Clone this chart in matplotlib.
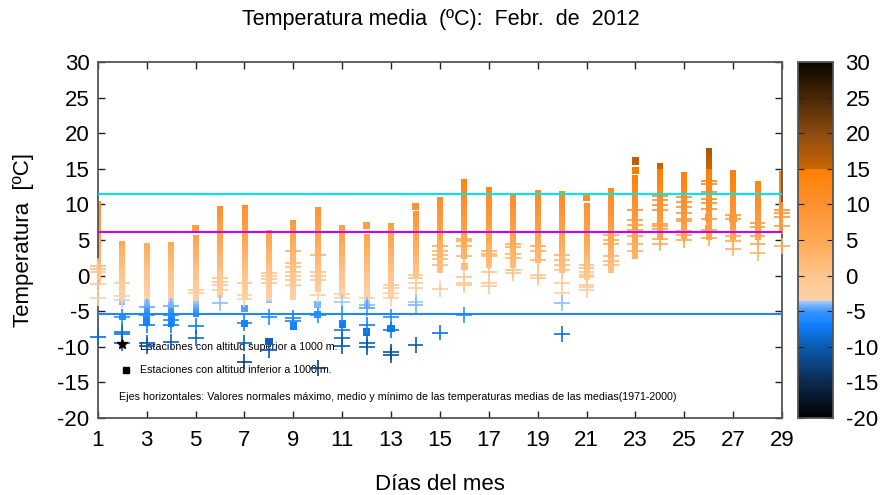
import numpy as np
import matplotlib
matplotlib.use('Agg')
import matplotlib.pyplot as plt
from matplotlib.colors import LinearSegmentedColormap, Normalize
from matplotlib.cm import ScalarMappable

plt.rcParams['font.family'] = ['Liberation Sans', 'DejaVu Sans']
plt.rcParams['axes.unicode_minus'] = False

# Data (temperature in ºC)
days = list(range(1, 30))

# dense stacks of stations (top and bottom of each column)
col_top = [10.4, 4.8, 4.4, 4.6, 5.7, 9.8, 9.9, 6.3, 7.7, 9.5,
           7.1, 5.8, 7.3, 8.9, 10.9, 13.4, 12.3, 11.4, 11.9, 11.7,
           10.2, 12.3, 14.0, 15.8, 14.6, 17.9, 14.7, 13.2, 14.5]
col_bot = [-1.3, -4.1, -5.3, -7.2, -5.8, -3.1, -3.4, -3.9, -3.4, -2.3,
           -3.0, -4.4, -3.2, -0.4, 0.3, 2.3, 1.0, 1.0, 1.7, 0.3,
           -0.6, 0.4, 2.3, 5.0, 5.2, 5.0, 5.0, 5.0, 6.2]

# isolated stations below 1000 m (squares)
square_vals = {
    2: [-5.7], 3: [-6.2, -6.6], 4: [-6.0, -6.5], 5: [6.6],
    7: [-4.6, -6.7], 8: [-9.3], 9: [-7.1], 10: [-4.1, -5.5],
    11: [-6.8], 12: [7.0, -7.9], 13: [-7.4], 14: [9.7], 16: [1.3],
    21: [11.0], 23: [16.1, 14.8], 26: [8.2, 6.6], 27: [8.0],
}

# stations above 1000 m (crosses)
plus_vals = {
    1: [1.3, 0.9, 0.5, -1.2, -3.2, -8.6],
    2: [-1.1, -2.9, -3.4, -5.8, -7.9, -8.2, -9.5],
    3: [-4.4, -5.6, -6.9, -9.5, -9.9],
    4: [-4.3, -5.6, -6.3, -7.0, -9.3],
    5: [-2.0, -2.4, -7.1, -8.8],
    6: [-0.4, -0.9, -1.3, -2.0, -3.8],
    7: [-1.0, -2.7, -3.3, -6.7, -9.5, -12.1],
    8: [0.4, -0.1, -0.5, -1.0, -5.8, -10.4],
    9: [3.4, 1.8, 1.2, 0.5, -0.1, -0.6, -1.3, -6.0, -6.4],
    10: [2.9, 0.5, -0.1, -0.6, -2.7, -5.6, -13.0],
    11: [-2.6, -3.2, -3.7, -5.4, -7.6, -8.8, -9.9],
    12: [-3.2, -4.1, -4.6, -6.9, -9.5, -10.0],
    13: [-1.3, -1.8, -2.4, -3.2, -5.8, -7.6, -10.7, -11.2],
    14: [0.1, -0.4, -1.1, -1.8, -3.7, -4.1, -9.7],
    15: [4.2, 3.5, 2.9, 2.3, 1.5, -1.9, -8.0],
    16: [5.2, 4.8, 4.2, 2.7, -0.2, -1.0, -1.3, -5.5],
    17: [3.4, 3.0, 2.7, 0.5, -1.0, -1.5],
    18: [4.5, 4.0, 3.1, 2.5, 0.8, 0.3],
    19: [4.2, 3.4, 2.2, 0.1, -0.4],
    20: [2.9, 2.2, 1.5, 0.8, -1.0, -2.5, -3.8, -8.2],
    21: [1.5, 1.0, 0.5, 0.1, -0.2, -1.3, -1.6, -2.0],
    22: [5.7, 5.0, 4.5, 2.7, 2.1, 1.5],
    23: [9.2, 7.8, 7.1, 6.4, 5.5, 4.5, 3.5],
    24: [11.2, 10.6, 9.9, 9.2, 7.3, 7.0, 6.6, 5.2, 4.5],
    25: [11.1, 10.4, 9.7, 8.8, 8.0, 7.6, 6.2, 5.7, 5.0],
    26: [13.3, 12.9, 11.8, 10.7, 10.2, 9.3, 8.0, 6.4, 5.3],
    27: [8.5, 8.0, 5.6, 4.8, 3.8],
    28: [7.4, 6.8, 5.5, 4.5, 3.2],
    29: [9.2, 8.8, 8.3, 7.0, 4.2],
}

# normal values 1971-2000 (max, mean, min)
normal_max = 11.5
normal_mean = 6.1
normal_min = -5.4

# colour scale like the gnuplot palette
tmin, tmax = -20, 30
stops = [(-20, '#000000'), (-15, '#0c2a50'), (-10, '#0b5cb0'), (-7, '#1080ff'),
         (-5, '#3a95ff'), (-3.6, '#a8ccff'), (-3.5, '#ffd2a8'), (0, '#ffc58e'),
         (5, '#ffa850'), (10, '#ff9030'), (14.9, '#ff8000'), (15, '#cc6600'),
         (20, '#8c4a10'), (25, '#4a2808'), (30, '#0a0500')]
cmap = LinearSegmentedColormap.from_list(
    'temp', [((t - tmin) / (tmax - tmin), c) for t, c in stops])
norm = Normalize(tmin, tmax)

fig = plt.figure(figsize=(8.82, 4.95), dpi=100)
ax = fig.add_axes([0.111, 0.1556, 0.7756, 0.7191])

# columns of stations
w = 0.12
for d, hi, lo in zip(days, col_top, col_bot):
    grad = np.linspace(lo, hi, 200).reshape(-1, 1)
    ax.imshow(grad, extent=(d - w, d + w, lo, hi), origin='lower', cmap=cmap,
              norm=norm, aspect='auto', interpolation='nearest', zorder=2)

sx = [d for d in square_vals for v in square_vals[d]]
sy = [v for d in square_vals for v in square_vals[d]]
ax.scatter(sx, sy, c=sy, cmap=cmap, norm=norm, marker='s', s=28,
           linewidths=0, zorder=3, clip_on=False)

px = [d for d in plus_vals for v in plus_vals[d]]
py = [v for d in plus_vals for v in plus_vals[d]]
ax.scatter(px, py, c=py, cmap=cmap, norm=norm, marker='+', s=130,
           linewidths=1.2, zorder=4, clip_on=False)

ax.axhline(normal_max, color='#00e5e5', lw=1.5, zorder=5)
ax.axhline(normal_mean, color='#cc00ee', lw=1.5, zorder=5)
ax.axhline(normal_min, color='#1e88ff', lw=1.5, zorder=5)

# legend texts
ax.plot([1.98], [-9.6], marker='*', color='black', ms=7, zorder=6)
ax.text(2.72, -10.0, 'Estaciones con altitud superior a 1000 m.', fontsize=7.7,
        va='center', zorder=1)
ax.plot([2.15], [-13.3], marker='s', color='black', ms=4, zorder=6)
ax.text(2.72, -13.3, 'Estaciones con altitud inferior a 1000 m.', fontsize=7.7,
        va='center', zorder=1)
ax.text(1.86, -17.0, 'Ejes horizontales: Valores normales máximo, medio y mínimo '
        'de las temperaturas medias de las medias(1971-2000)', fontsize=7.7,
        va='center', zorder=1)

ax.set_xlim(1, 29)
ax.set_ylim(-20, 30)
ax.set_xticks(range(1, 30, 2))
ax.set_yticks(range(-20, 31, 5))
ax.tick_params(direction='in', top=True, right=True, length=5, width=1,
               labelsize=16, pad=6, color='#222222')
ax.tick_params(axis='x', pad=9)
for s in ax.spines.values():
    s.set_color('#555555')
    s.set_linewidth(1.3)

fig.text(0.5, 1 - 20 / 495, 'Temperatura media  (ºC):  Febr.  de  2012',
         fontsize=15.5, ha='center', va='center')
ax.set_xlabel('Días del mes', fontsize=16, labelpad=16)
ax.set_ylabel('Temperatura  [ºC]', fontsize=16, labelpad=17)

# colour bar
cax = fig.add_axes([0.9048, 0.1556, 0.0397, 0.7191])
cb = fig.colorbar(ScalarMappable(norm=norm, cmap=cmap), cax=cax)
cb.set_ticks(range(-20, 31, 5))
cax.tick_params(direction='in', left=True, right=True, length=4, labelsize=16,
                pad=9, color='#222222')
cb.outline.set_edgecolor('#555555')
cb.outline.set_linewidth(1.3)

fig.savefig('out.png', dpi=100)
